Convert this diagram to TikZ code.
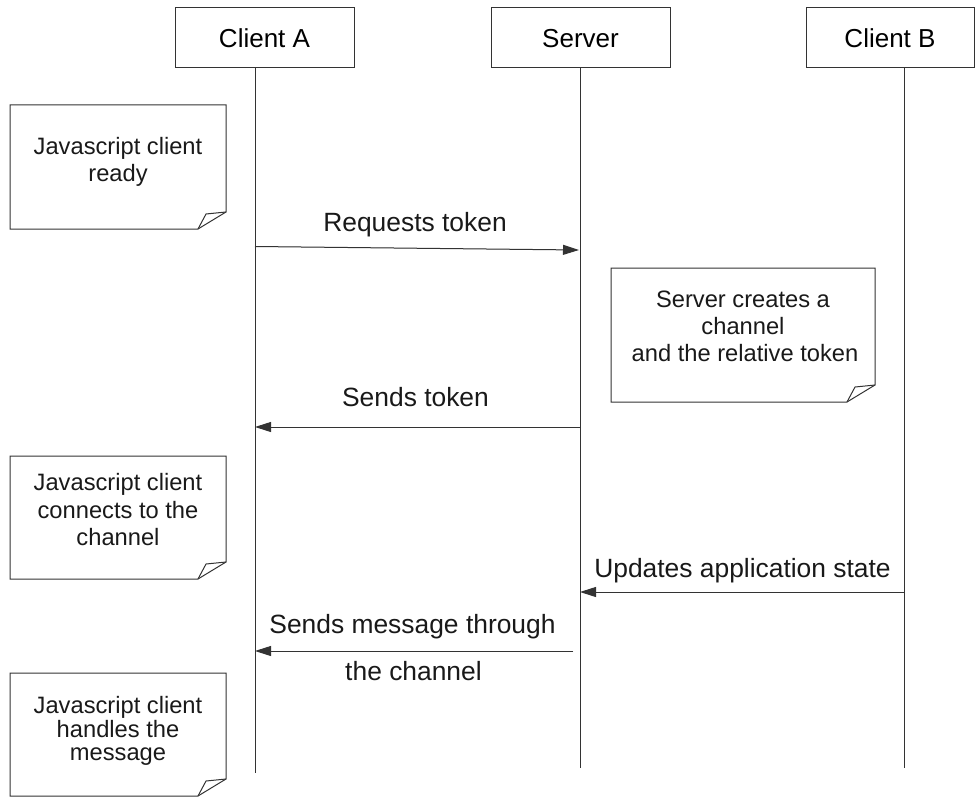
\documentclass[tikz,border=0pt]{standalone}
\usepackage{fontspec}
\setmainfont{Liberation Sans}
\usetikzlibrary{arrows.meta}
\newcommand{\paperNote}[4]{%
  \draw[line] (#1,#2) -- (#3,#2) -- (#3,#4-17) -- (#3-28,#4) -- (#1,#4) -- cycle;
  \draw[line] (#3,#4-17) -- (#3-20,#4-15) -- (#3-28,#4);}
\begin{document}
\begin{tikzpicture}[x=1pt,y=-1pt,
  line/.style={draw=black!80, line width=1pt},
  header/.style={line, minimum height=60pt, inner sep=0pt, text height=19pt, text depth=0pt, font=\fontsize{26}{30}\selectfont},
  msg/.style={line, -{Triangle[length=16pt,width=10pt]}, fill=black!80},
  msglabel/.style={anchor=base, inner sep=0pt, font=\fontsize{26.4}{30}\selectfont, text=black!90},
  notetext/.style={anchor=base, inner sep=0pt, font=\fontsize{23.7}{27}\selectfont, text=black!90}]
\useasboundingbox (0,0) rectangle (975,797);

% headers
\node[header, minimum width=179pt] (ca) at (264.5,38) {Client A};
\node[header, minimum width=179pt] (srv) at (580.5,38) {Server};
\node[header, minimum width=168pt] (cb) at (890,38) {Client B};

% lifelines
\coordinate (A0) at (255,68);  \coordinate (A1) at (255,773);
\coordinate (S0) at (580,68);  \coordinate (S1) at (580,768);
\coordinate (B0) at (904,68);  \coordinate (B1) at (904,768);
\draw[line] (A0) -- (A1);
\draw[line] (S0) -- (S1);
\draw[line] (B0) -- (B1);

% notes
\paperNote{10}{105}{226}{229}
\node[notetext] (n1a) at (118,155) {Javascript client};
\node[notetext] (n1b) at (118,182) {ready};

\paperNote{611}{268}{875}{402}
\node[notetext] (n2a) at (743,307) {Server creates a};
\node[notetext] (n2b) at (743,334.5) {channel};
\node[notetext] (n2c) at (745,361.5) {and the relative token};

\paperNote{10}{456}{226}{579}
\node[notetext] (n3a) at (118,490.5) {Javascript client};
\node[notetext] (n3b) at (118,518) {connects to the};
\node[notetext] (n3c) at (118,545) {channel};

\paperNote{10}{673}{226}{796}
\node[notetext] (n4a) at (118,713) {Javascript client};
\node[notetext] (n4b) at (118,737) {handles the};
\node[notetext] (n4c) at (118,760) {message};

% messages
\coordinate (m1a) at (255,246.5); \coordinate (m1b) at (579,250);
\coordinate (m2a) at (580,427);   \coordinate (m2b) at (255,427);
\coordinate (m3a) at (904,592);   \coordinate (m3b) at (580,592);
\coordinate (m4a) at (573,651);   \coordinate (m4b) at (255,651);
\draw[msg] (m1a) -- (m1b);
\draw[msg] (m2a) -- (m2b);
\draw[msg] (m3a) -- (m3b);
\draw[msg] (m4a) -- (m4b);

\node[msglabel] (l1) at (415,231) {Requests token};
\node[msglabel] (l2) at (415.5,406.5) {Sends token};
\node[msglabel] (l3) at (742.5,577.5) {Updates application state};
\node[msglabel] (l4a) at (412.5,633) {Sends message through};
\node[msglabel] (l4b) at (413.5,680) {the channel};
\end{tikzpicture}
\end{document}
